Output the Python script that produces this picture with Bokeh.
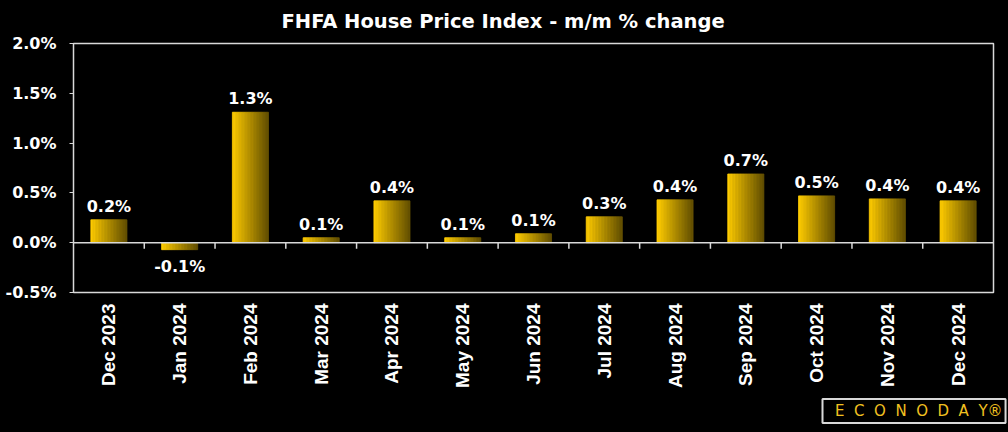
from bokeh.plotting import figure
from bokeh.models import ColumnDataSource, FactorRange, Range1d, PrintfTickFormatter, Span, Title, FixedTicker
from bokeh.transform import dodge
from bokeh.core.properties import value
from bokeh.embed import file_html
from bokeh.resources import INLINE
from bokeh.core.templates import get_env

months = ["Dec 2023", "Jan 2024", "Feb 2024", "Mar 2024", "Apr 2024", "May 2024", "Jun 2024",
          "Jul 2024", "Aug 2024", "Sep 2024", "Oct 2024", "Nov 2024", "Dec 2024"]
changes = [0.23, -0.07, 1.31, 0.05, 0.42, 0.05, 0.09, 0.26, 0.43, 0.69, 0.47, 0.44, 0.42]
labels = ["0.2%", "-0.1%", "1.3%", "0.1%", "0.4%", "0.1%", "0.1%", "0.3%", "0.4%", "0.7%", "0.5%", "0.4%", "0.4%"]
y_ticks = [-0.5, 0.0, 0.5, 1.0, 1.5, 2.0]

FONT = "DejaVu Sans"
XFONT = "Liberation Sans"
W, H = 1008, 432

src = ColumnDataSource(dict(
    m=months, v=changes, lab=labels,
    base=["bottom" if c >= 0 else "top" for c in changes],
    yoff=[-4 if c >= 0 else 7 for c in changes],
))

p = figure(width=W, height=H, x_range=FactorRange(*months), y_range=Range1d(-0.5, 2.0),
           output_backend="svg", toolbar_location=None,
           background_fill_color="black", border_fill_color="black",
           min_border_left=73, min_border_right=15, min_border_bottom=139, min_border_top=43)

p.title.text = "FHFA House Price Index - m/m % change"
p.title.text_color = "white"
p.title.text_font = FONT
p.title.text_font_size = "19.5px"
p.title.text_font_style = "bold"
p.title.align = "left"
p.title.vertical_align = "top"
p.title.offset = 208
p.title.standoff = 18

p.outline_line_color = "#d9d9d9"
p.outline_line_width = 1.5
p.grid.visible = False

# gradient bars built from slices
N = 24
bw = 0.51
c0 = (0xFF, 0xCC, 0x00)
c1 = (0x66, 0x52, 0x00)
for i in range(N):
    t = i / (N - 1)
    col = "#%02x%02x%02x" % tuple(int(round(a + (b - a) * t)) for a, b in zip(c0, c1))
    off = -bw / 2 + (i + 0.5) * bw / N
    p.vbar(x=dodge("m", off, range=p.x_range), top="v", bottom=0, width=bw / N,
           source=src, fill_color=col, line_color=col, line_width=0.8)

p.add_layout(Span(location=0, dimension="width", line_color="#d9d9d9", line_width=1.5))
tick_src = ColumnDataSource(dict(m=months[:-1]))
p.segment(x0=dodge("m", 0.5, range=p.x_range), x1=dodge("m", 0.5, range=p.x_range),
          y0=0.0, y1=-0.06, source=tick_src, line_color="#d9d9d9", line_width=1.5)

p.text(x="m", y="v", text="lab", source=src, text_align="center", text_baseline="base",
       y_offset="yoff", text_color="white", text_font=value(FONT), text_font_size="16px",
       text_font_style="bold")

p.yaxis.ticker = FixedTicker(ticks=y_ticks)
p.yaxis.formatter = PrintfTickFormatter(format="%.1f%%")
p.yaxis.axis_line_color = None
p.yaxis.major_tick_line_color = "#d9d9d9"
p.yaxis.major_tick_out = 4
p.yaxis.major_tick_in = 0
p.yaxis.minor_tick_line_color = None
p.yaxis.major_label_text_color = "white"
p.yaxis.major_label_text_font = FONT
p.yaxis.major_label_text_font_size = "16px"
p.yaxis.major_label_text_font_style = "bold"
p.yaxis.major_label_standoff = 13

p.xaxis.axis_line_color = None
p.xaxis.major_tick_line_color = None
p.xaxis.major_label_orientation = 1.5707963
p.xaxis.major_label_text_color = "white"
p.xaxis.major_label_text_font = XFONT
p.xaxis.major_label_text_font_size = "19px"
p.xaxis.major_label_text_font_style = "bold"
p.xaxis.major_label_standoff = 5

NB = "\u00a0"
logo_text = (NB * 2) + (NB * 2).join("ECONODAY") + "\u00ae"
logo = Title(text=logo_text, align="left", offset=749, vertical_align="top", standoff=15,
             text_color="#f0c020", text_font=FONT, text_font_size="15px", text_font_style="normal",
             background_fill_color="black", border_line_color="#d9d9d9", border_line_width=2,
             padding=3)
p.add_layout(logo, "below")

tmpl = get_env().from_string(
    '{% extends "file.html" %}{% block preamble %}<style>html,body{background:#000;}</style>{% endblock %}')

open("out.html", "w").write(file_html(p, INLINE, template=tmpl))
